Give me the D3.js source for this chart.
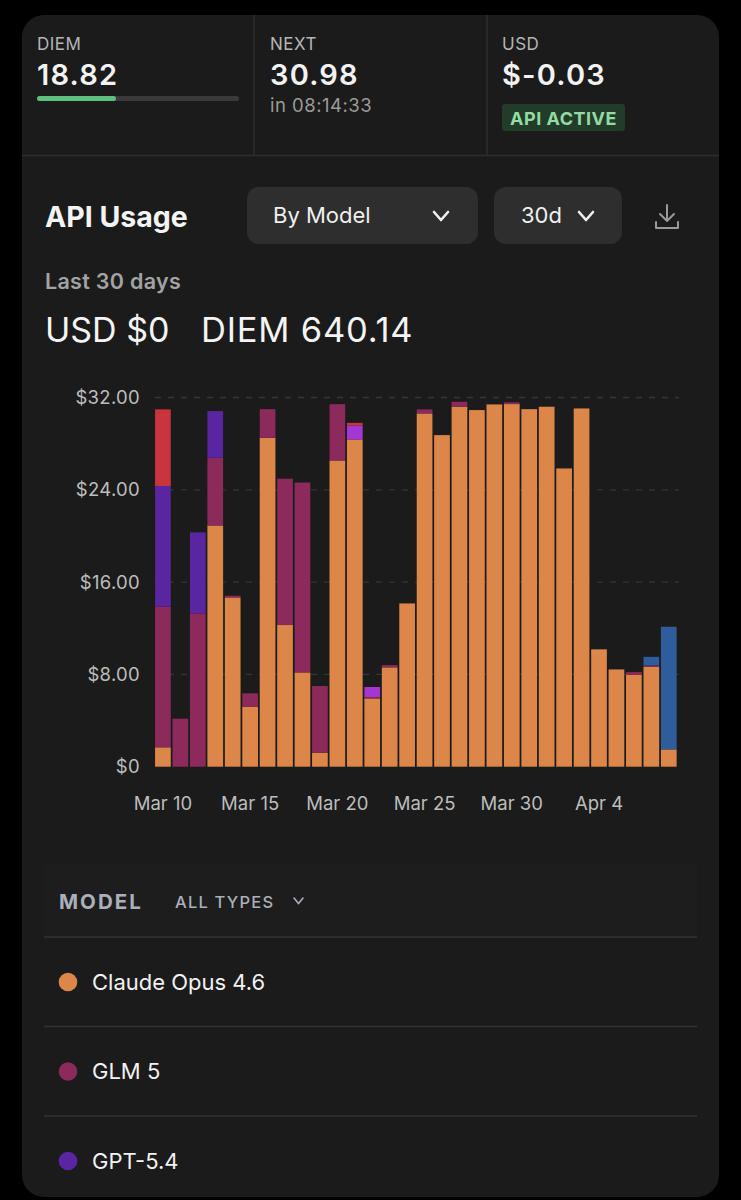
<!DOCTYPE html>
<html>
<head>
<meta charset="utf-8">
<script src="https://cdn.jsdelivr.net/npm/d3@7"></script>
<style>
  html, body { margin: 0; padding: 0; background: #000; }
  svg { display: block; font-family: Inter, "Noto Sans", sans-serif; }
</style>
</head>
<body>
<div id="app"></div>
<script>
// daily API usage, stacked by model (USD)
const days = ["Mar 10", "Mar 11", "Mar 12", "Mar 13", "Mar 14", "Mar 15", "Mar 16", "Mar 17", "Mar 18", "Mar 19",
  "Mar 20", "Mar 21", "Mar 22", "Mar 23", "Mar 24", "Mar 25", "Mar 26", "Mar 27", "Mar 28", "Mar 29",
  "Mar 30", "Mar 31", "Apr 1", "Apr 2", "Apr 3", "Apr 4", "Apr 5", "Apr 6", "Apr 7", "Apr 8"];
const xTickLabels = ["Mar 10", "Mar 15", "Mar 20", "Mar 25", "Mar 30", "Apr 4"];
const yTickValues = [0, 8, 16, 24, 32];

const models = ["Claude Opus 4.6", "GLM 5", "GPT-5.4", "Model 4", "Model 5", "Model 6"];
const modelColors = ["#dc8749", "#8c2a5b", "#5a25a1", "#a436d4", "#c8353f", "#2f5c9a"];

const opusValues = [1.68, 0, 0, 20.91, 14.67, 5.2, 28.51, 12.28, 8.17, 1.21, 26.54, 28.36, 5.92, 8.61, 14.15,
  30.62, 28.74, 31.2, 30.91, 31.4, 31.43, 30.99, 31.2, 25.85, 31.05, 10.17, 8.43, 7.97, 8.67, 1.5];
const glmValues = [12.19, 4.16, 13.29, 5.87, 0.15, 1.16, 2.48, 12.68, 16.46, 5.78, 4.88, 0, 0.12, 0.2, 0,
  0.35, 0, 0.43, 0, 0, 0.15, 0, 0, 0, 0, 0, 0, 0.23, 0.1, 0];
const gptValues = [10.46, 0, 7.02, 4.04, 0, 0, 0, 0, 0, 0, 0, 0, 0, 0, 0,
  0, 0, 0, 0, 0, 0, 0, 0, 0, 0, 0, 0, 0, 0, 0];
const magentaValues = [0, 0, 0, 0, 0, 0, 0, 0, 0, 0, 0, 1.21, 0.87, 0, 0,
  0, 0, 0, 0, 0, 0, 0, 0, 0, 0, 0, 0, 0, 0, 0];
const redValues = [6.64, 0, 0, 0, 0, 0, 0, 0, 0, 0, 0, 0.23, 0, 0, 0,
  0, 0, 0, 0, 0, 0, 0, 0, 0, 0, 0, 0, 0, 0, 0];
const blueValues = [0, 0, 0, 0, 0, 0, 0, 0, 0, 0, 0, 0, 0, 0, 0,
  0, 0, 0, 0, 0, 0, 0, 0, 0, 0, 0, 0, 0, 0.75, 10.63];

const legendShown = ["Claude Opus 4.6", "GLM 5", "GPT-5.4"];

const W = 741, H = 1200;
const svg = d3.select("#app").append("svg").attr("width", W).attr("height", H);

drawCard();
drawHeader();
drawChart();
drawLegend();

function drawCard() {
  svg.append("rect").attr("width", W).attr("height", H).attr("fill", "#000");
  svg.append("rect")
    .attr("x", 22).attr("y", 15).attr("width", 697).attr("height", 1182)
    .attr("rx", 22).attr("fill", "#1b1b1b");
  // stat dividers
  svg.append("line").attr("x1", 22).attr("x2", 719).attr("y1", 155.5).attr("y2", 155.5)
    .attr("stroke", "#2e2e2e").attr("stroke-width", 1.5);
  [254, 487].forEach(x => {
    svg.append("line").attr("x1", x).attr("x2", x).attr("y1", 15).attr("y2", 155)
      .attr("stroke", "#2e2e2e").attr("stroke-width", 1.5);
  });
}

function drawHeader() {
  const stats = [
    { x: 37, label: "DIEM", value: "18.82" },
    { x: 270, label: "NEXT", value: "30.98" },
    { x: 502, label: "USD", value: "$-0.03" }
  ];
  stats.forEach(s => {
    svg.append("text").attr("x", s.x).attr("y", 50).text(s.label)
      .attr("fill", "#b5b5b5").attr("font-size", 17).attr("letter-spacing", 0.5);
    svg.append("text").attr("x", s.x).attr("y", 85).text(s.value)
      .attr("fill", "#f2f2f2").attr("font-size", 29).attr("font-weight", 600)
      .attr("letter-spacing", 1.2);
  });

  // diem progress
  svg.append("rect").attr("x", 37).attr("y", 96).attr("width", 202).attr("height", 5)
    .attr("rx", 2.5).attr("fill", "#3a3a3a");
  svg.append("rect").attr("x", 37).attr("y", 96).attr("width", 79).attr("height", 5)
    .attr("rx", 2.5).attr("fill", "#5fbf7f");

  svg.append("text").attr("x", 270).attr("y", 112).text("in 08:14:33")
    .attr("fill", "#9a9a9a").attr("font-size", 18.5).attr("letter-spacing", 0.5);

  svg.append("rect").attr("x", 502).attr("y", 104).attr("width", 123).attr("height", 27)
    .attr("rx", 3).attr("fill", "#233b29");
  svg.append("text").attr("x", 563.5).attr("y", 124.5).text("API ACTIVE")
    .attr("text-anchor", "middle").attr("fill", "#93dba4")
    .attr("font-size", 18).attr("font-weight", 700).attr("letter-spacing", 0.5);

  svg.append("text").attr("x", 45).attr("y", 227).text("API Usage")
    .attr("fill", "#f4f4f4").attr("font-size", 28.5).attr("font-weight", 700);

  // dropdowns
  const drops = [
    { x: 247, w: 231, label: "By Model", tx: 273, cx: 441 },
    { x: 494, w: 128, label: "30d", tx: 521, cx: 586 }
  ];
  drops.forEach(d => {
    svg.append("rect").attr("x", d.x).attr("y", 187).attr("width", d.w).attr("height", 57)
      .attr("rx", 12).attr("fill", "#2e2e2e");
    svg.append("text").attr("x", d.tx).attr("y", 223).text(d.label)
      .attr("fill", "#f0f0f0").attr("font-size", 22);
    svg.append("path")
      .attr("d", `M${d.cx - 7},${212} L${d.cx},${220} L${d.cx + 7},${212}`)
      .attr("fill", "none").attr("stroke", "#f0f0f0").attr("stroke-width", 2.6)
      .attr("stroke-linecap", "round").attr("stroke-linejoin", "round");
  });

  // download icon
  const ic = svg.append("g").attr("fill", "none").attr("stroke", "#9a9a9a")
    .attr("stroke-width", 2).attr("stroke-linecap", "round").attr("stroke-linejoin", "round");
  ic.append("path").attr("d", "M667,205 L667,221 M660,214 L667,221 L674,214");
  ic.append("path").attr("d", "M656,222 L656,228 L678,228 L678,222");

  svg.append("text").attr("x", 45).attr("y", 289).text("Last 30 days")
    .attr("fill", "#a3a3a3").attr("font-size", 21.5).attr("font-weight", 600)
    .attr("letter-spacing", 0.3);

  svg.append("text").attr("x", 45).attr("y", 342).text("USD $0")
    .attr("fill", "#f4f4f4").attr("font-size", 34);
  svg.append("text").attr("x", 201).attr("y", 342).text("DIEM 640.14")
    .attr("fill", "#f4f4f4").attr("font-size", 34.5).attr("letter-spacing", 0.8);
}

function drawChart() {
  const valuesByModel = [opusValues, glmValues, gptValues, magentaValues, redValues, blueValues];
  const rows = days.map((day, i) => {
    const row = { day: day };
    models.forEach((m, k) => { row[m] = valuesByModel[k][i]; });
    return row;
  });
  const stacked = d3.stack().keys(models)(rows);

  const x = d3.scaleBand().domain(days).range([154.2, 677.5])
    .paddingInner(0.1).paddingOuter(0.05);
  const y = d3.scaleLinear().domain([0, 32]).range([766.7, 397.5]);
  const color = d3.scaleOrdinal().domain(models).range(modelColors);

  // dashed grid
  svg.append("g").selectAll("line")
    .data(yTickValues.filter(v => v > 0))
    .join("line")
    .attr("x1", 155).attr("x2", 679)
    .attr("y1", d => y(d)).attr("y2", d => y(d))
    .attr("stroke", "#363636").attr("stroke-width", 1.3)
    .attr("stroke-dasharray", "6 7");

  svg.append("g").selectAll("g")
    .data(stacked)
    .join("g")
    .attr("fill", d => color(d.key))
    .selectAll("rect")
    .data(d => d.filter(p => p[1] - p[0] > 0))
    .join("rect")
    .attr("x", p => x(p.data.day))
    .attr("width", x.bandwidth())
    .attr("y", p => y(p[1]))
    .attr("height", p => y(p[0]) - y(p[1]));

  const yAxis = svg.append("g").attr("transform", "translate(140,0)")
    .call(d3.axisLeft(y).tickValues(yTickValues).tickSize(0).tickPadding(0)
      .tickFormat(v => v === 0 ? "$0" : "$" + v.toFixed(2)));
  yAxis.select(".domain").remove();
  yAxis.selectAll("text").attr("fill", "#bdbdbd").attr("font-size", 18.5)
    .attr("letter-spacing", 0.3).attr("font-family", "Inter, sans-serif");

  const xAxis = svg.append("g").attr("transform", "translate(0,766.7)")
    .call(d3.axisBottom(x).tickValues(xTickLabels).tickSize(0).tickPadding(30));
  xAxis.select(".domain").remove();
  xAxis.selectAll("text").attr("fill", "#bdbdbd").attr("font-size", 18.5)
    .attr("font-family", "Inter, sans-serif");
}

function drawLegend() {
  svg.append("rect").attr("x", 44).attr("y", 864).attr("width", 653).attr("height", 73)
    .attr("fill", "#1d1d1d");
  svg.append("text").attr("x", 59).attr("y", 909).text("MODEL")
    .attr("fill", "#a9b0bc").attr("font-size", 20.5).attr("font-weight", 700)
    .attr("letter-spacing", 2);
  svg.append("text").attr("x", 175).attr("y", 908).text("ALL TYPES")
    .attr("fill", "#a9b0bc").attr("font-size", 16.5).attr("font-weight", 500)
    .attr("letter-spacing", 1.2);
  svg.append("path").attr("d", "M294,898 L298.5,903.5 L303,898")
    .attr("fill", "none").attr("stroke", "#a9b0bc").attr("stroke-width", 1.6)
    .attr("stroke-linecap", "round");

  const rowH = 89.5;
  const rows = svg.append("g").selectAll("g")
    .data(legendShown)
    .join("g")
    .attr("transform", (d, i) => `translate(0,${937 + i * rowH})`);
  rows.append("line").attr("x1", 44).attr("x2", 697).attr("y1", 0).attr("y2", 0)
    .attr("stroke", "#333").attr("stroke-width", 1.5);
  rows.append("circle").attr("cx", 68).attr("cy", 45).attr("r", 9.3)
    .attr("fill", d => modelColors[models.indexOf(d)]);
  rows.append("text").attr("x", 92).attr("y", 52.5).text(d => d)
    .attr("fill", "#f2f2f2").attr("font-size", 22);
}
</script>
</body>
</html>
